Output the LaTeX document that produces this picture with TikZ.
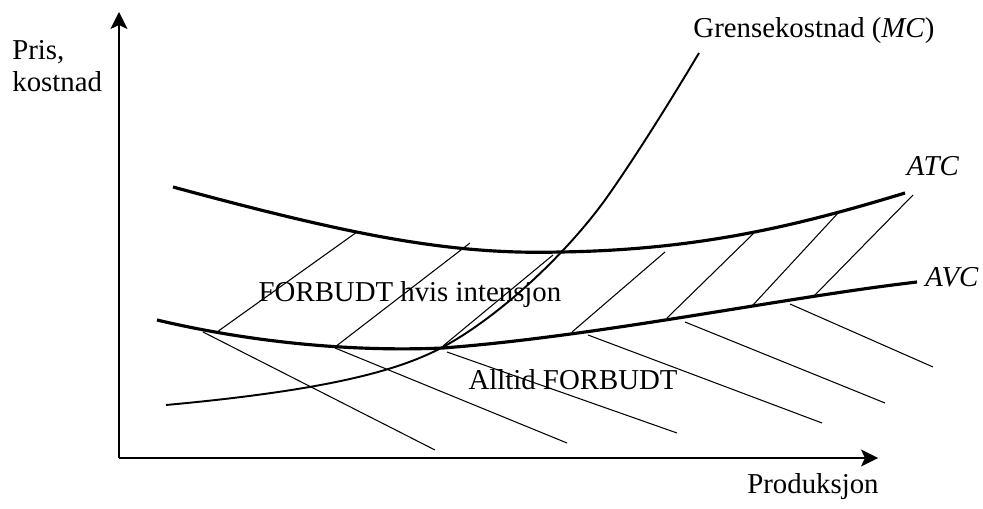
\documentclass[tikz,border=0pt]{standalone}
\usepackage{fontspec}
\setmainfont{Liberation Serif}
\usetikzlibrary{arrows.meta}

\begin{document}
\begin{tikzpicture}[x=0.02cm,y=-0.02cm,
	axis/.style={line width=1.1pt,-{Stealth[length=3.4mm,width=3.4mm,inset=0.8mm]}},
	curve/.style={line width=1.8pt},
	mccurve/.style={line width=1.1pt},
	hatch/.style={line width=0.6pt},
	lbl/.style={font=\fontsize{16.4}{18.5}\selectfont,inner sep=0pt}
	]
	\useasboundingbox (0,0) rectangle (983,509);

	% axes
	\coordinate (origin) at (119,458);
	\coordinate (ytop)   at (119,12);
	\coordinate (xend)   at (878,458);
	\draw [axis] (origin) -- (ytop);
	\draw [axis] (origin) -- (xend);

	% labels
	\node [lbl,anchor=west,align=left] (ylabel)	at (12,66)	{Pris,\\kostnad};
	\node [lbl] (xlabel)		at (813,487)	{Produksjon};
	\node [lbl] (mclabel)		at (814,31)	{Grensekostnad (\textit{MC})};
	\node [lbl] (atclabel)		at (933,166)	{\textit{ATC}};
	\node [lbl] (avclabel)		at (952,277)	{\textit{AVC}};

	% cost curves
	\draw [curve] (173,187) .. controls (350,235) and (450,255) .. (560,252)
		.. controls (700,250) and (800,225) .. (905,193);
	\draw [curve] (157,320) .. controls (250,342) and (350,352) .. (443,348)
		.. controls (600,336) and (780,298) .. (917,282);
	\draw [mccurve] (166,405) .. controls (330,390) and (400,370) .. (443,347)
		.. controls (500,316) and (565,255) .. (605,200)
		.. controls (630,165) and (665,110) .. (699,53);

	% hatching between ATC and AVC
	\draw [hatch] (217,332) -- (357,232);
	\draw [hatch] (335,347) -- (470,243);
	\draw [hatch] (443,346) -- (553,255);
	\draw [hatch] (572,332) -- (665,252);
	\draw [hatch] (667,318) -- (753,234);
	\draw [hatch] (753,305) -- (839,212);
	\draw [hatch] (813,297) -- (913,195);

	% hatching below AVC
	\draw [hatch] (203,332) -- (435,450);
	\draw [hatch] (335,348) -- (567,443);
	\draw [hatch] (447,352) -- (677,433);
	\draw [hatch] (588,335) -- (822,423);
	\draw [hatch] (685,322) -- (885,403);
	\draw [hatch] (790,304) -- (933,367);

	% area texts
	\node [lbl] (forbudt)	at (410,295)	{FORBUDT hvis intensjon};
	\node [lbl] (alltid)	at (573,380)	{Alltid FORBUDT};

\end{tikzpicture}
\end{document}
